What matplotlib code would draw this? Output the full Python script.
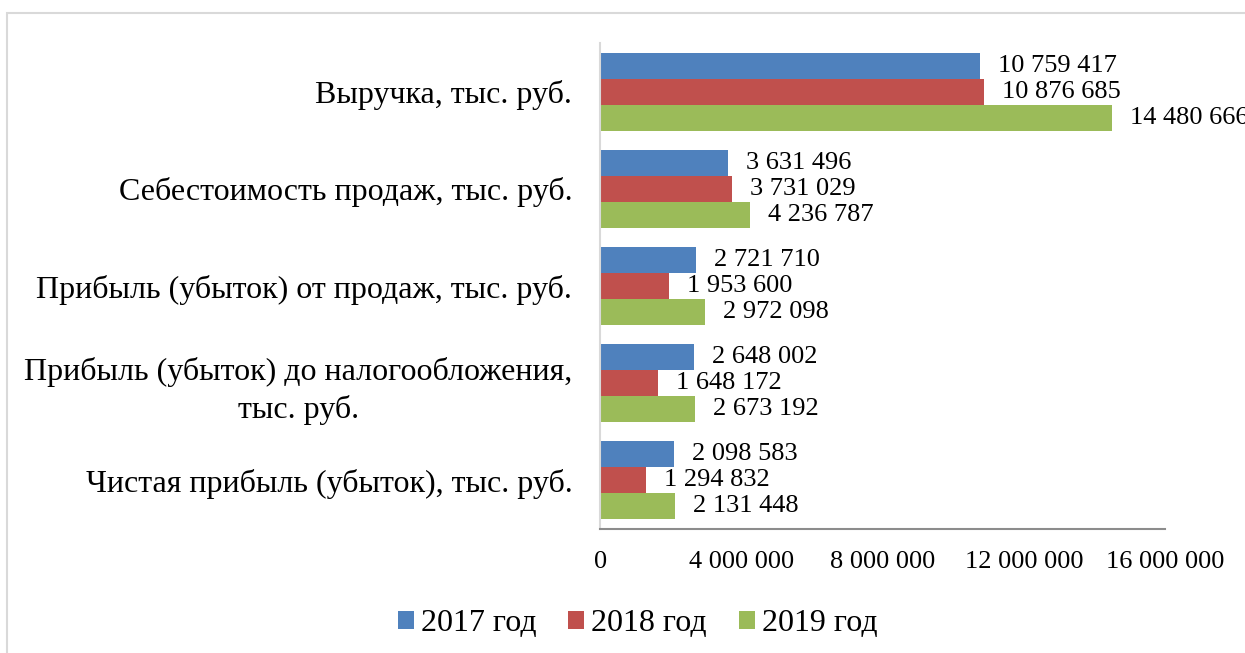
import matplotlib
matplotlib.use("Agg")
import matplotlib.pyplot as plt
from matplotlib.patches import Rectangle
import numpy as np

plt.rcParams['font.family'] = ['Liberation Serif', 'DejaVu Serif']

categories = [
    "Выручка, тыс. руб.",
    "Себестоимость продаж, тыс. руб.",
    "Прибыль (убыток) от продаж, тыс. руб.",
    "Прибыль (убыток) до налогообложения,\nтыс. руб.",
    "Чистая прибыль (убыток), тыс. руб.",
]
years = ["2017 год", "2018 год", "2019 год"]
v2017 = [10759417, 3631496, 2721710, 2648002, 2098583]
v2018 = [10876685, 3731029, 1953600, 1648172, 1294832]
v2019 = [14480666, 4236787, 2972098, 2673192, 2131448]
colors = ["#4F81BD", "#C0504D", "#9BBB59"]
xticks = [0, 4000000, 8000000, 12000000, 16000000]


def fmt(v):
    return "{:,}".format(v).replace(",", " ")


fig = plt.figure(figsize=(12.45, 6.53), dpi=100)
ax = fig.add_axes([0.482, 0.19, 0.454, 0.744])

# light frame around the chart area (as in the source document)
fig.patches.append(Rectangle((0.0056, -0.1), 1.2, 1.08, transform=fig.transFigure,
                             fill=False, edgecolor="#d9d9d9", linewidth=1.5))

y = np.arange(len(categories))
h = 0.267
series = [v2017, v2018, v2019]
for i, vals in enumerate(series):
    pos = y + (i - 1) * h
    ax.barh(pos, vals, height=h, color=colors[i], label=years[i])
    for p, v in zip(pos, vals):
        ax.annotate(fmt(v), (v, p), xytext=(13, 0), textcoords="offset points",
                    va="center", ha="left", fontsize=19, annotation_clip=False)

ax.set_xlim(0, 16000000)
ax.set_ylim(len(categories) - 0.5, -0.5)
ax.set_xticks(xticks)
ax.set_xticklabels([fmt(t) for t in xticks], fontsize=19)
ax.set_yticks(y)
ax.set_yticklabels(categories, fontsize=23, multialignment="center", linespacing=1.37)
ax.tick_params(axis="both", length=0)
ax.tick_params(axis="x", pad=16)
ax.tick_params(axis="y", pad=20)

for s in ["top", "right"]:
    ax.spines[s].set_visible(False)
ax.spines["left"].set_color("#d9d9d9")
ax.spines["left"].set_linewidth(1.5)
ax.spines["bottom"].set_color("#8c8c8c")
ax.spines["bottom"].set_linewidth(1.5)

fig.legend(loc="center", bbox_to_anchor=(0.512, 0.045), ncol=3, frameon=False,
           fontsize=23, handlelength=0.5, handleheight=0.5, handletextpad=0.22,
           columnspacing=1.0)

fig.savefig("out.png", dpi=100)
